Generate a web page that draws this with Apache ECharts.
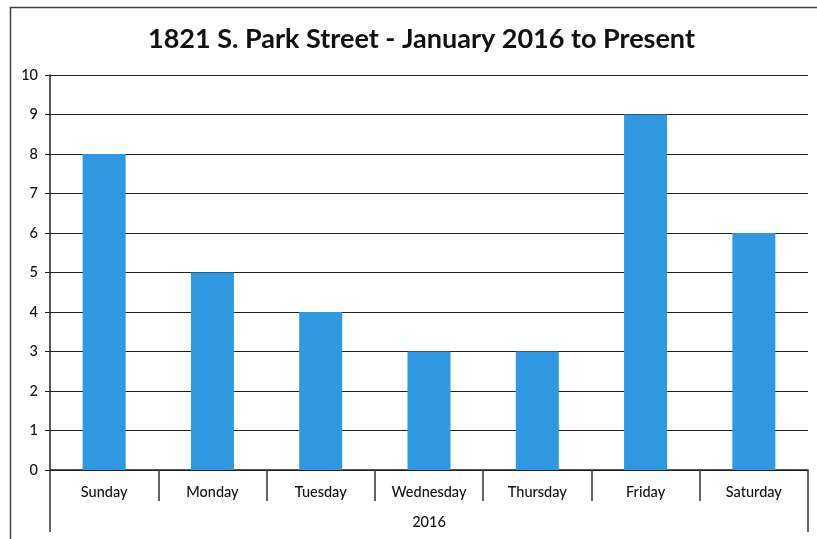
<!DOCTYPE html>
<html>
<head>
<meta charset="utf-8">
<script src="https://cdn.jsdelivr.net/npm/echarts@6/dist/echarts.min.js"></script>
<style>
  html, body { margin: 0; padding: 0; background: #fff; }
  #main { width: 817px; height: 539px; }
</style>
</head>
<body>
<div id="main"></div>
<script>
var titleText = '1821 S. Park Street - January 2016 to Present';
var days = ['Sunday', 'Monday', 'Tuesday', 'Wednesday', 'Thursday', 'Friday', 'Saturday'];
var counts = [8, 5, 4, 3, 3, 9, 6];
var yearLabel = ['2016'];

var chart = echarts.init(document.getElementById('main'));
var font = 'Lato, "Open Sans", sans-serif';

chart.setOption({
  animation: false,
  title: {
    text: titleText,
    left: 143,
    top: 21,
    textStyle: { fontFamily: font, fontSize: 27, fontWeight: 'bold', color: '#111' }
  },
  graphic: [{
    type: 'rect',
    left: 8, top: 5,
    shape: { width: 830, height: 560 },
    style: { fill: 'none', stroke: '#444', lineWidth: 1.5 }
  }],
  grid: { left: 50, right: 9, top: 75, bottom: 69 },
  xAxis: [{
    type: 'category',
    data: days,
    axisLine: { lineStyle: { color: '#222', width: 1.5 } },
    axisTick: { show: true, length: 31, lineStyle: { color: '#333', width: 1.5 } },
    axisLabel: { fontFamily: font, fontSize: 14.5, fontWeight: 500, color: '#111', margin: 15 }
  }, {
    type: 'category',
    data: yearLabel,
    position: 'bottom',
    offset: 0,
    axisLine: { show: false },
    axisTick: { show: true, length: 62, lineStyle: { color: '#333', width: 1.5 } },
    axisLabel: { fontFamily: font, fontSize: 14.5, fontWeight: 500, color: '#111', margin: 45 }
  }],
  yAxis: {
    type: 'value',
    min: 0, max: 10, interval: 1,
    axisLine: { show: true, lineStyle: { color: '#222', width: 1.5 } },
    axisTick: { show: true, length: 5, lineStyle: { color: '#222' } },
    axisLabel: { fontFamily: font, fontSize: 14.5, fontWeight: 500, color: '#111', margin: 12 },
    splitLine: { lineStyle: { color: '#222', width: 1.2 } }
  },
  series: [{
    type: 'bar',
    data: counts,
    xAxisIndex: 0,
    barWidth: 43,
    itemStyle: { color: '#2f98e1' }
  }]
});
</script>
</body>
</html>
